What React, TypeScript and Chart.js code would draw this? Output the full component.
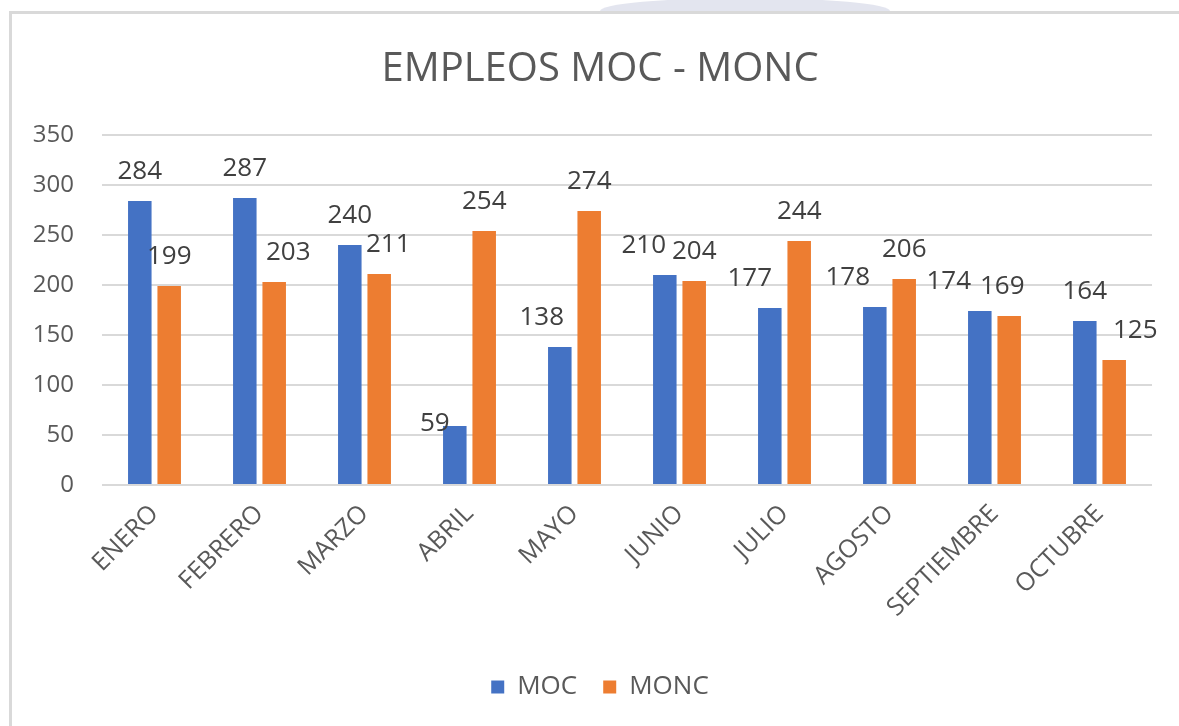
import React, { useEffect, useRef } from "react";
import { Chart, registerables } from "chart.js";

Chart.register(...registerables);

const TITLE = "EMPLEOS MOC - MONC";
const MONTHS = ["ENERO", "FEBRERO", "MARZO", "ABRIL", "MAYO", "JUNIO", "JULIO", "AGOSTO", "SEPTIEMBRE", "OCTUBRE"];
const MOC = [284, 287, 240, 59, 138, 210, 177, 178, 174, 164];
const MONC = [199, 203, 211, 254, 274, 204, 244, 206, 169, 125];
const Y_MIN = 0;
const Y_MAX = 350;
const Y_STEP = 50;

const FONT = "'Open Sans', 'Noto Sans', sans-serif";
const TEXT = "#595959";

// label nudges (pixels) to mimic the reference's hand-placed data labels: [dx, dy]
const LABEL_NUDGE: Record<string, [number, number]> = {
  "0-3": [-20, 27],
  "0-4": [-18, 0],
  "0-5": [-21, 0],
  "0-6": [-20, 0],
  "0-7": [-27, 0],
  "0-8": [-31, 0],
  "1-1": [14, 0],
  "1-2": [9, 0],
  "1-8": [-7, 0],
  "1-9": [21, 0],
};

const valueLabels = {
  id: "valueLabels",
  afterDatasetsDraw(chart: any) {
    const ctx = chart.ctx;
    ctx.save();
    ctx.font = `26px ${FONT}`;
    ctx.fillStyle = "#404040";
    ctx.textAlign = "center";
    ctx.textBaseline = "alphabetic";
    chart.data.datasets.forEach((ds: any, i: number) => {
      const meta = chart.getDatasetMeta(i);
      meta.data.forEach((bar: any, j: number) => {
        const [dx, dy] = LABEL_NUDGE[`${i}-${j}`] || [0, 0];
        ctx.fillText(String(ds.data[j]), bar.x + dx, bar.y - 22 + dy);
      });
    });
    ctx.restore();
  },
};

export default function App() {
  const ref = useRef<HTMLCanvasElement | null>(null);
  useEffect(() => {
    document.body.style.margin = "0";
    const chart = new Chart(ref.current as HTMLCanvasElement, {
      type: "bar",
      data: {
        labels: MONTHS,
        datasets: [
          { label: "MOC", data: MOC, backgroundColor: "#4472C4", categoryPercentage: 0.56, barPercentage: 0.8 },
          { label: "MONC", data: MONC, backgroundColor: "#ED7D31", categoryPercentage: 0.56, barPercentage: 0.8 },
        ],
      },
      options: {
        responsive: false,
        animation: false,
        layout: { padding: { left: 24, right: 3, top: 0, bottom: 16 } },
        plugins: {
          title: {
            display: true,
            text: TITLE,
            color: TEXT,
            font: { family: FONT, size: 40, weight: "normal" },
            padding: { top: 46, bottom: 41 },
          },
          legend: {
            position: "bottom",
            labels: {
              color: TEXT,
              font: { family: FONT, size: 26 },
              boxWidth: 13,
              boxHeight: 13,
              padding: 26,
            },
          },
          tooltip: { enabled: false },
        },
        scales: {
          x: {
            grid: { display: false, drawTicks: false },
            border: { display: false },
            ticks: {
              color: TEXT,
              font: { family: FONT, size: 25 },
              maxRotation: 45,
              minRotation: 45,
              padding: 14,
            },
            afterFit(scale: any) {
              scale.height = 163;
            },
          },
          y: {
            min: Y_MIN,
            max: Y_MAX,
            grid: { color: "#d9d9d9", lineWidth: 2, drawTicks: false },
            border: { display: false },
            ticks: {
              stepSize: Y_STEP,
              color: TEXT,
              font: { family: FONT, size: 24 },
              padding: 28,
            },
            afterFit(scale: any) {
              scale.width = 78;
            },
          },
          spacer: {
            type: "linear",
            position: "right",
            display: true,
            grid: { display: false, drawTicks: false },
            border: { display: false },
            ticks: { display: false },
            afterFit(scale: any) {
              scale.width = 24;
            },
          },
        },
      },
      plugins: [valueLabels],
    });
    return () => chart.destroy();
  }, []);

  return (
    <div style={{ position: "relative", width: 1179, height: 726, overflow: "hidden", background: "#fff" }}>
      <div
        style={{
          position: "absolute",
          left: 600,
          top: -2,
          width: 290,
          height: 26,
          borderRadius: "50%",
          background: "#e3e5ef",
        }}
      />
      <div
        style={{
          position: "absolute",
          left: 9,
          top: 11,
          width: 1200,
          height: 740,
          background: "#fff",
          borderLeft: "3px solid #d9d9d9",
          borderTop: "3px solid #d9d9d9",
        }}
      />
      <canvas ref={ref} width={1179} height={726} style={{ position: "absolute", left: 0, top: 0 }} />
    </div>
  );
}
